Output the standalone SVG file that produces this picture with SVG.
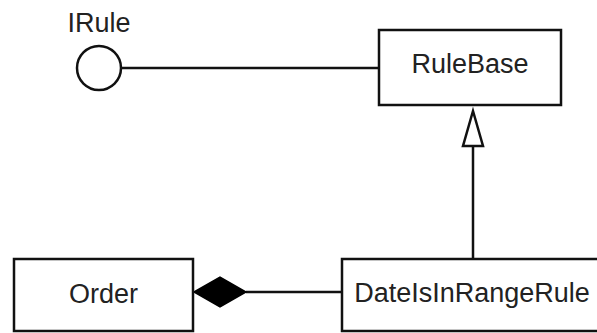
<svg xmlns="http://www.w3.org/2000/svg" width="597" height="333" viewBox="0 0 597 333">
  <style>
    .box { fill: #ffffff; stroke: #111111; stroke-width: 2.5; }
    .edge { fill: none; stroke: #111111; stroke-width: 2.5; }
    .label { font-family: "Liberation Sans", Arial, sans-serif; font-size: 27px; fill: #222222; text-anchor: middle; }
  </style>
  <rect width="597" height="333" fill="#ffffff"/>

  <!-- connectors -->
  <g id="connectors">
    <!-- IRule lollipop to RuleBase -->
    <line class="edge" x1="121" y1="68" x2="379" y2="68"/>
    <!-- generalization: DateIsInRangeRule to RuleBase -->
    <line class="edge" x1="473" y1="146" x2="473" y2="259"/>
    <polygon class="edge" fill="#ffffff" points="473,111 483,146 463,146"/>
    <!-- composition: Order owns DateIsInRangeRule -->
    <line class="edge" x1="246" y1="292" x2="342" y2="292"/>
    <polygon fill="#000000" stroke="#000000" stroke-width="1.5" points="194,292 220,277 246,292 220,307"/>
  </g>

  <g id="irule">
    <circle class="box" cx="99" cy="68" r="22"/>
    <text class="label" x="99" y="32">IRule</text>
  </g>

  <g id="rulebase">
    <rect class="box" x="379" y="30" width="182" height="75"/>
    <text class="label" x="470" y="73">RuleBase</text>
  </g>

  <g id="order">
    <rect class="box" x="14" y="259" width="179" height="72"/>
    <text class="label" x="103.5" y="303">Order</text>
  </g>

  <g id="dateisinrangerule">
    <rect class="box" x="342" y="259" width="270" height="72"/>
    <text class="label" x="472" y="302">DateIsInRangeRule</text>
  </g>
</svg>
